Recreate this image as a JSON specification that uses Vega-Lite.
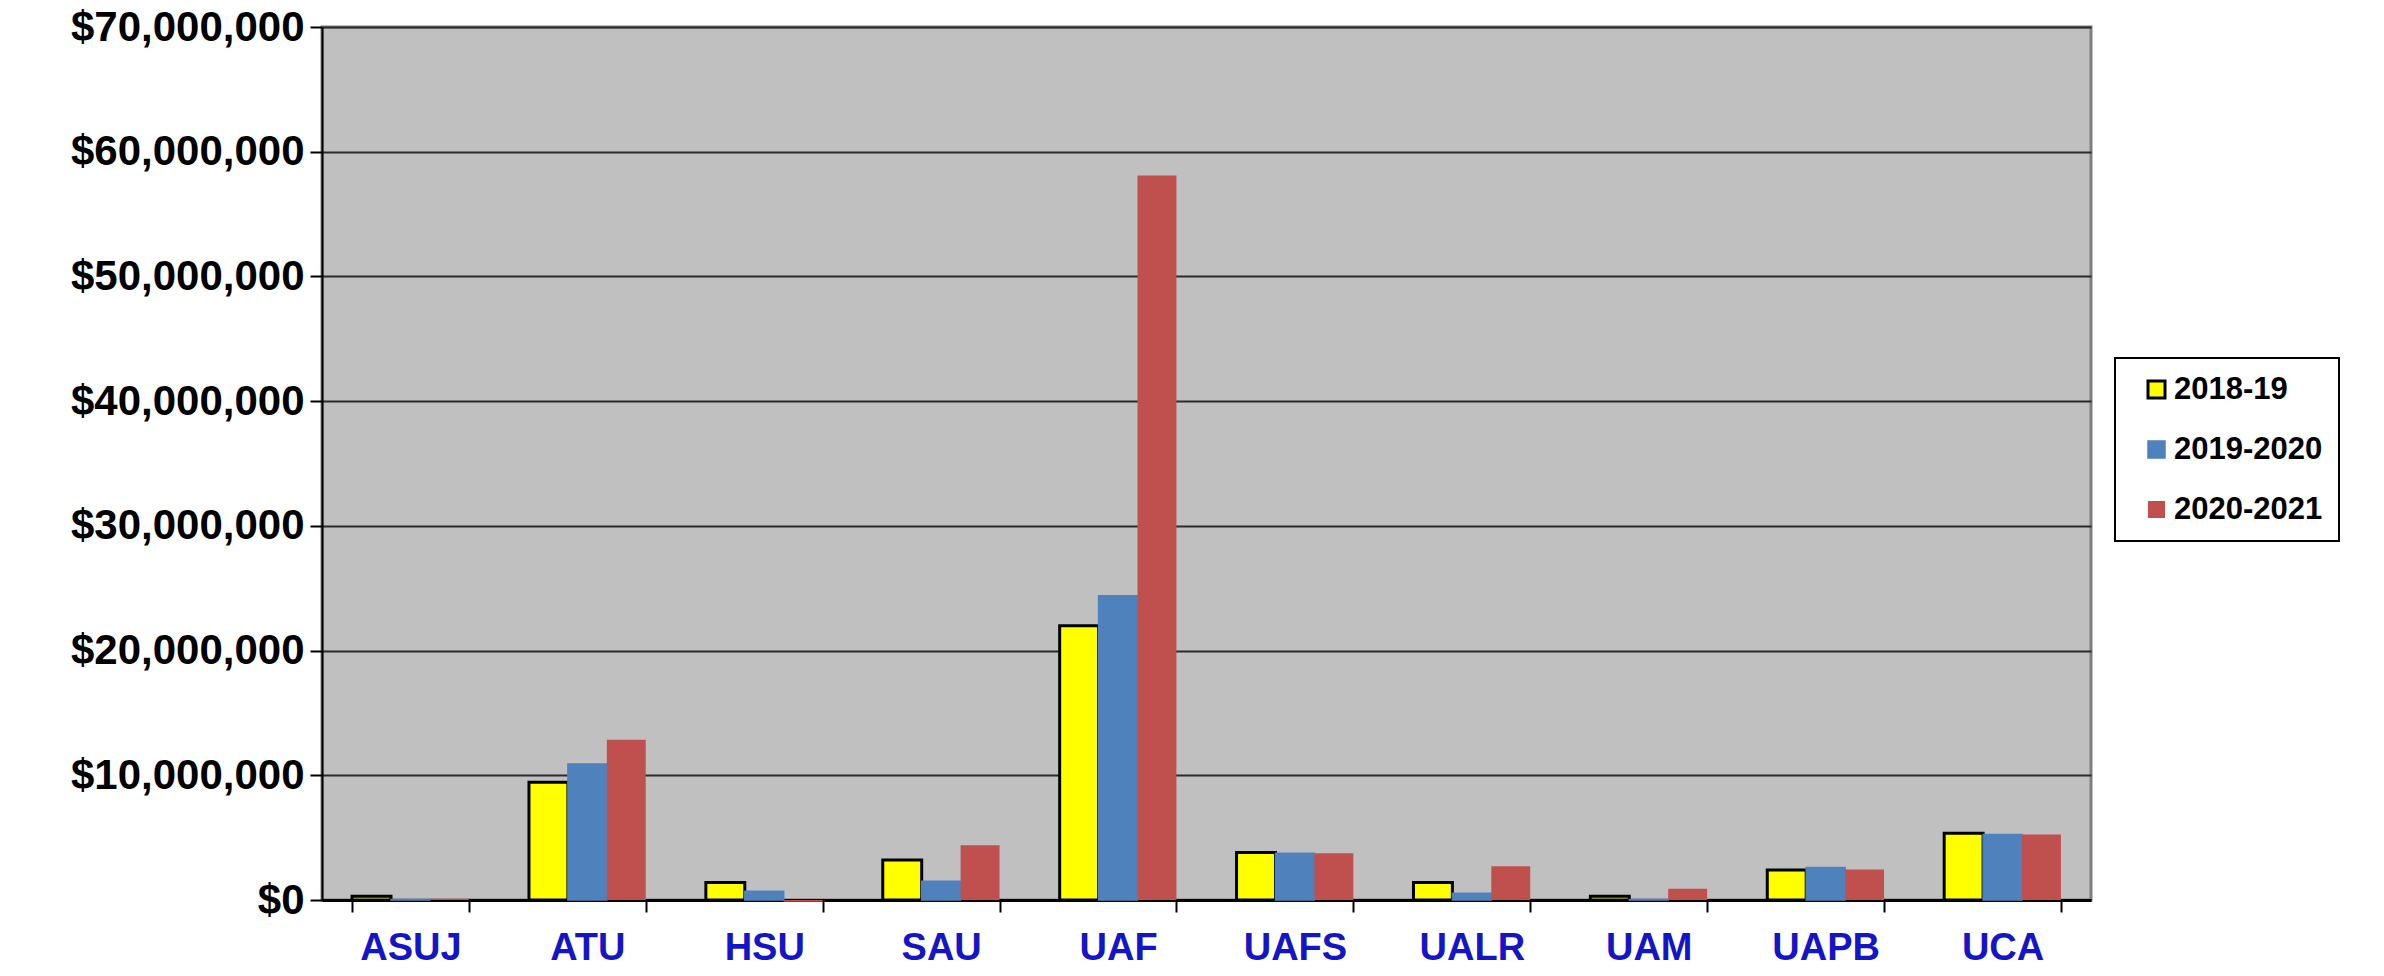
{
  "$schema": "https://vega.github.io/schema/vega-lite/v6.json",
  "width": 1769,
  "height": 873,
  "autosize": {"type": "none"},
  "padding": {"left": 322, "top": 27, "right": 293, "bottom": 76},
  "background": "white",
  "config": {
    "view": {"fill": "#C0C0C0", "stroke": "#7F7F7F", "strokeWidth": 3},
    "font": "Liberation Sans"
  },
  "data": {
    "values": [
      {"school": "ASUJ", "year": "2018-19", "amount": 300000},
      {"school": "ASUJ", "year": "2019-2020", "amount": 50000},
      {"school": "ASUJ", "year": "2020-2021", "amount": 100000},
      {"school": "ATU", "year": "2018-19", "amount": 9450000},
      {"school": "ATU", "year": "2019-2020", "amount": 10900000},
      {"school": "ATU", "year": "2020-2021", "amount": 12850000},
      {"school": "HSU", "year": "2018-19", "amount": 1400000},
      {"school": "HSU", "year": "2019-2020", "amount": 700000},
      {"school": "HSU", "year": "2020-2021", "amount": -150000},
      {"school": "SAU", "year": "2018-19", "amount": 3200000},
      {"school": "SAU", "year": "2019-2020", "amount": 1500000},
      {"school": "SAU", "year": "2020-2021", "amount": 4400000},
      {"school": "UAF", "year": "2018-19", "amount": 22000000},
      {"school": "UAF", "year": "2019-2020", "amount": 24400000},
      {"school": "UAF", "year": "2020-2021", "amount": 58100000},
      {"school": "UAFS", "year": "2018-19", "amount": 3800000},
      {"school": "UAFS", "year": "2019-2020", "amount": 3750000},
      {"school": "UAFS", "year": "2020-2021", "amount": 3750000},
      {"school": "UALR", "year": "2018-19", "amount": 1400000},
      {"school": "UALR", "year": "2019-2020", "amount": 550000},
      {"school": "UALR", "year": "2020-2021", "amount": 2700000},
      {"school": "UAM", "year": "2018-19", "amount": 300000},
      {"school": "UAM", "year": "2019-2020", "amount": 50000},
      {"school": "UAM", "year": "2020-2021", "amount": 900000},
      {"school": "UAPB", "year": "2018-19", "amount": 2400000},
      {"school": "UAPB", "year": "2019-2020", "amount": 2600000},
      {"school": "UAPB", "year": "2020-2021", "amount": 2450000},
      {"school": "UCA", "year": "2018-19", "amount": 5350000},
      {"school": "UCA", "year": "2019-2020", "amount": 5250000},
      {"school": "UCA", "year": "2020-2021", "amount": 5250000}
    ]
  },
  "mark": {"type": "bar", "clip": false},
  "encoding": {
    "x": {
      "field": "school",
      "type": "nominal",
      "sort": null,
      "scale": {"paddingInner": 0.34, "paddingOuter": 0.17},
      "axis": {
        "title": null,
        "labelAngle": 0,
        "labelFont": "Liberation Sans",
        "labelFontSize": 38,
        "labelFontWeight": "bold",
        "labelColor": "#1515C8",
        "labelPadding": 17,
        "labelLimit": 400,
        "tickBand": "extent",
        "tickSize": 12,
        "tickColor": "black",
        "tickWidth": 2,
        "domainColor": "black",
        "domainWidth": 3,
        "grid": false
      }
    },
    "xOffset": {"field": "year", "type": "nominal", "sort": ["2018-19", "2019-2020", "2020-2021"]},
    "y": {
      "field": "amount",
      "type": "quantitative",
      "scale": {"domain": [0, 70000000], "nice": false},
      "axis": {
        "title": null,
        "values": [0, 10000000, 20000000, 30000000, 40000000, 50000000, 60000000, 70000000],
        "format": "$,.0f",
        "labelFont": "Liberation Sans",
        "labelFontSize": 42,
        "labelFontWeight": "bold",
        "labelColor": "black",
        "labelPadding": 6,
        "labelLimit": 500,
        "tickSize": 12,
        "tickColor": "black",
        "tickWidth": 2,
        "domainColor": "black",
        "domainWidth": 2,
        "grid": true,
        "gridColor": "#2a2a2a",
        "gridWidth": 2
      }
    },
    "color": {
      "field": "year",
      "type": "nominal",
      "scale": {"domain": ["2018-19", "2019-2020", "2020-2021"], "range": ["#FFFF00", "#4F81BD", "#C0504D"]},
      "legend": {
        "title": null,
        "orient": "none",
        "legendX": 1793,
        "legendY": 331,
        "fillColor": "white",
        "strokeColor": "black",
        "padding": 16,
        "rowPadding": 28,
        "symbolType": "square",
        "symbolSize": 289,
        "symbolStrokeWidth": 2,
        "symbolOffset": 10,
        "labelOffset": 2,
        "labelFont": "Liberation Sans",
        "labelFontSize": 31,
        "labelFontWeight": "bold",
        "labelColor": "black",
        "encode": {"legend": {"update": {"strokeWidth": {"value": 2}}}}
      }
    },
    "stroke": {
      "field": "year",
      "type": "nominal",
      "scale": {"domain": ["2018-19", "2019-2020", "2020-2021"], "range": ["#000000", "#4F81BD", "#C0504D"]},
      "legend": {
        "title": null,
        "orient": "none",
        "legendX": 1793,
        "legendY": 331,
        "fillColor": "white",
        "strokeColor": "black",
        "padding": 16,
        "rowPadding": 28,
        "symbolType": "square",
        "symbolSize": 289,
        "symbolStrokeWidth": 2,
        "symbolOffset": 10,
        "labelOffset": 2,
        "labelFont": "Liberation Sans",
        "labelFontSize": 31,
        "labelFontWeight": "bold",
        "labelColor": "black",
        "encode": {"legend": {"update": {"strokeWidth": {"value": 2}}}}
      }
    },
    "strokeWidth": {
      "field": "year",
      "type": "nominal",
      "scale": {"domain": ["2018-19", "2019-2020", "2020-2021"], "range": [3, 0, 0]},
      "legend": null
    }
  }
}
